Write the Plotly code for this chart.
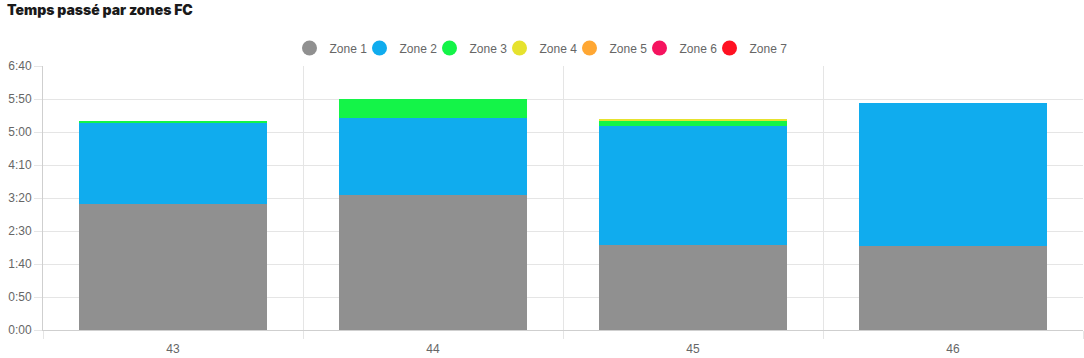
import plotly.graph_objects as go

weeks = ["43", "44", "45", "46"]
zone_names = ["Zone 1", "Zone 2", "Zone 3", "Zone 4", "Zone 5", "Zone 6", "Zone 7"]
zone_colors = ["#909090", "#10ACEE", "#14F448", "#E6E22E", "#FFA733", "#F5145F", "#FF1122"]
# minutes spent per zone, per week
zone1 = [191, 204.5, 129, 128]
zone2 = [123.5, 117, 180, 215.5]
zone3 = [2.5, 29, 8, 0]
zone4 = [0, 0, 1.5, 0]
zone5 = [0, 0, 0, 0]
zone6 = [0, 0, 0, 0]
zone7 = [0, 0, 0, 0]
zones = [zone1, zone2, zone3, zone4, zone5, zone6, zone7]

y_tickvals = [0, 50, 100, 150, 200, 250, 300, 350, 400]
y_ticktext = ["0:00", "0:50", "1:40", "2:30", "3:20", "4:10", "5:00", "5:50", "6:40"]

fig = go.Figure()
for name, color, vals in zip(zone_names, zone_colors, zones):
    fig.add_trace(go.Bar(
        x=weeks, y=vals, name=name, marker_color=color,
        marker_line_width=0, showlegend=False, hoverinfo="y+name",
    ))
for name, color in zip(zone_names, zone_colors):
    fig.add_trace(go.Scatter(
        x=[None], y=[None], mode="markers", name=name,
        marker=dict(color=color, size=15, symbol="circle"),
    ))
# empty spacer entry so the last legend label is not clipped
fig.add_trace(go.Scatter(
    x=[None], y=[None], mode="markers", name=" ",
    marker=dict(color="rgba(0,0,0,0)", size=1), hoverinfo="skip",
))

fig.update_layout(
    width=1084, height=358,
    barmode="stack", bargap=0.28,
    paper_bgcolor="white", plot_bgcolor="white",
    margin=dict(l=43, r=1, t=66, b=28, autoexpand=False),
    font=dict(family="Liberation Sans, Arial, sans-serif", size=12, color="#666666"),
    title=dict(
        text="Temps passé par zones FC",
        font=dict(family="Inter, Open Sans, sans-serif", size=14, color="#1a1a1a", weight=900),
        x=0.0, xanchor="left", xref="container", y=0.995, yanchor="top", yref="container",
        pad=dict(l=7, t=3),
    ),
    legend=dict(
        orientation="h", x=569.5 / 1084, xanchor="center", y=1 - 48 / 358, yanchor="middle",
        yref="container", xref="container", font=dict(size=12, color="#666666"),
        traceorder="normal", entrywidth=25, entrywidthmode="pixels",
        bgcolor="rgba(0,0,0,0)",
    ),
    xaxis=dict(
        type="category", tickson="boundaries", showgrid=True,
        gridcolor="#e5e5e5", gridwidth=1,
        ticks="outside", ticklen=8, tickcolor="#e5e5e5",
        showline=True, linecolor="#cfcfcf", linewidth=1,
        range=[-0.5, 3.5], fixedrange=True, automargin=False,
        ticklabelstandoff=8,
    ),
    yaxis=dict(
        range=[0, 400], tickmode="array", tickvals=y_tickvals, ticktext=y_ticktext,
        showgrid=True, gridcolor="#e5e5e5", gridwidth=1,
        ticks="outside", ticklen=8, tickcolor="#e5e5e5",
        showline=True, linecolor="#cfcfcf", linewidth=1,
        zeroline=False, fixedrange=True, automargin=False,
    ),
)

fig.write_html(
    "out.html",
    config={"displayModeBar": False},
    post_script="document.body.style.margin='0';",
)
